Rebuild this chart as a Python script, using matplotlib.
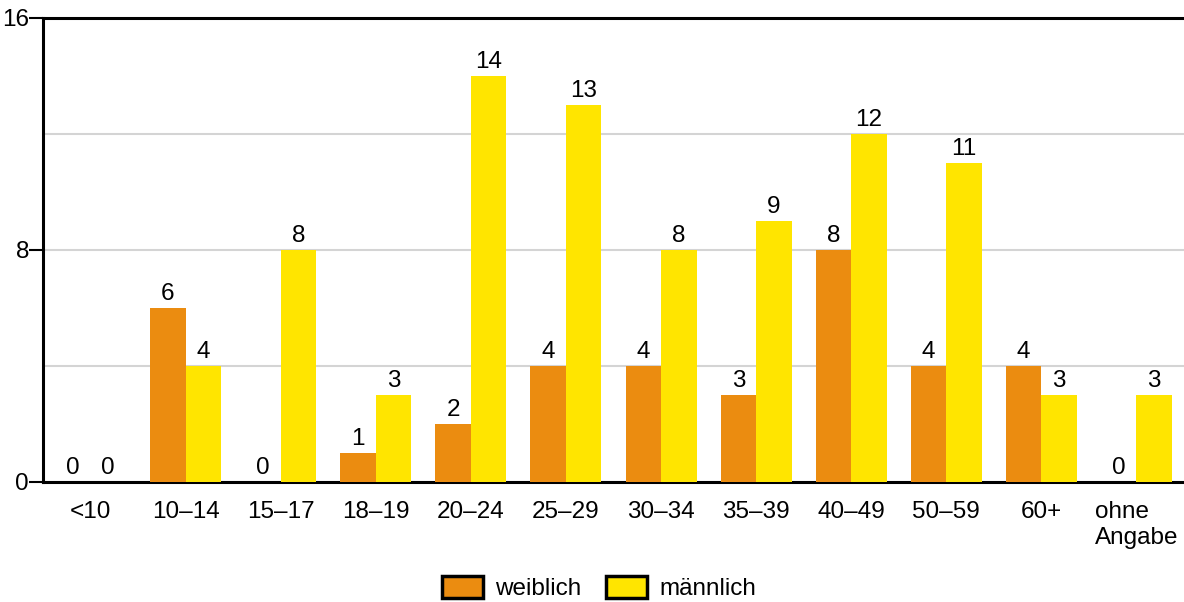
import numpy as np
import matplotlib.pyplot as plt

plt.rcParams['font.family'] = ['Liberation Sans', 'DejaVu Sans']

# age groups and counts
categories = ['<10', '10–14', '15–17', '18–19', '20–24', '25–29', '30–34',
              '35–39', '40–49', '50–59', '60+', 'ohne\nAngabe']
weiblich = [0, 6, 0, 1, 2, 4, 4, 3, 8, 4, 4, 0]
maennlich = [0, 4, 8, 3, 14, 13, 8, 9, 12, 11, 3, 3]

orange = '#EB8C10'
yellow = '#FFE500'

fig = plt.figure(figsize=(11.84, 6.02), dpi=100)
ax = fig.add_axes([43 / 1184, 120 / 602, 1141 / 1184, 464 / 602])

x = np.arange(len(categories))
w = 0.373
b1 = ax.bar(x - w / 2, weiblich, w, color=orange, label='weiblich', zorder=3)
b2 = ax.bar(x + w / 2, maennlich, w, color=yellow, label='männlich', zorder=3)

for bars in (b1, b2):
    for r in bars:
        h = r.get_height()
        ax.text(r.get_x() + r.get_width() / 2, h + 0.12, str(int(h)),
                ha='center', va='bottom', fontsize=17.5)

ax.set_xlim(-0.5, len(categories) - 0.5)
ax.set_ylim(0, 16)
ax.set_yticks([0, 8, 16])
ax.set_yticks([4, 12], minor=True)
ax.grid(axis='y', which='both', color='#d4d4d4', linewidth=1.5, zorder=0)
ax.tick_params(axis='y', which='major', length=10, width=1.5, labelsize=17.5, pad=0)
ax.tick_params(axis='y', which='minor', length=0)
ax.set_xticks(x)
ax.set_xticklabels(categories, fontsize=17.5, multialignment='left')
ax.tick_params(axis='x', length=0, pad=14)

for s in ('left', 'bottom', 'top'):
    ax.spines[s].set_linewidth(2.2)
    ax.spines[s].set_color('black')
ax.spines['right'].set_visible(False)

fig.legend(handles=[b1, b2], loc='lower center', bbox_to_anchor=(0.506, -0.033),
           ncol=2, frameon=False, fontsize=17.5, handlelength=1.7, handleheight=1.0,
           columnspacing=1.0, handletextpad=0.5)
for p in fig.legends[0].get_patches():
    p.set_edgecolor('black')
    p.set_linewidth(2.5)

fig.savefig('out.png', dpi=100)
